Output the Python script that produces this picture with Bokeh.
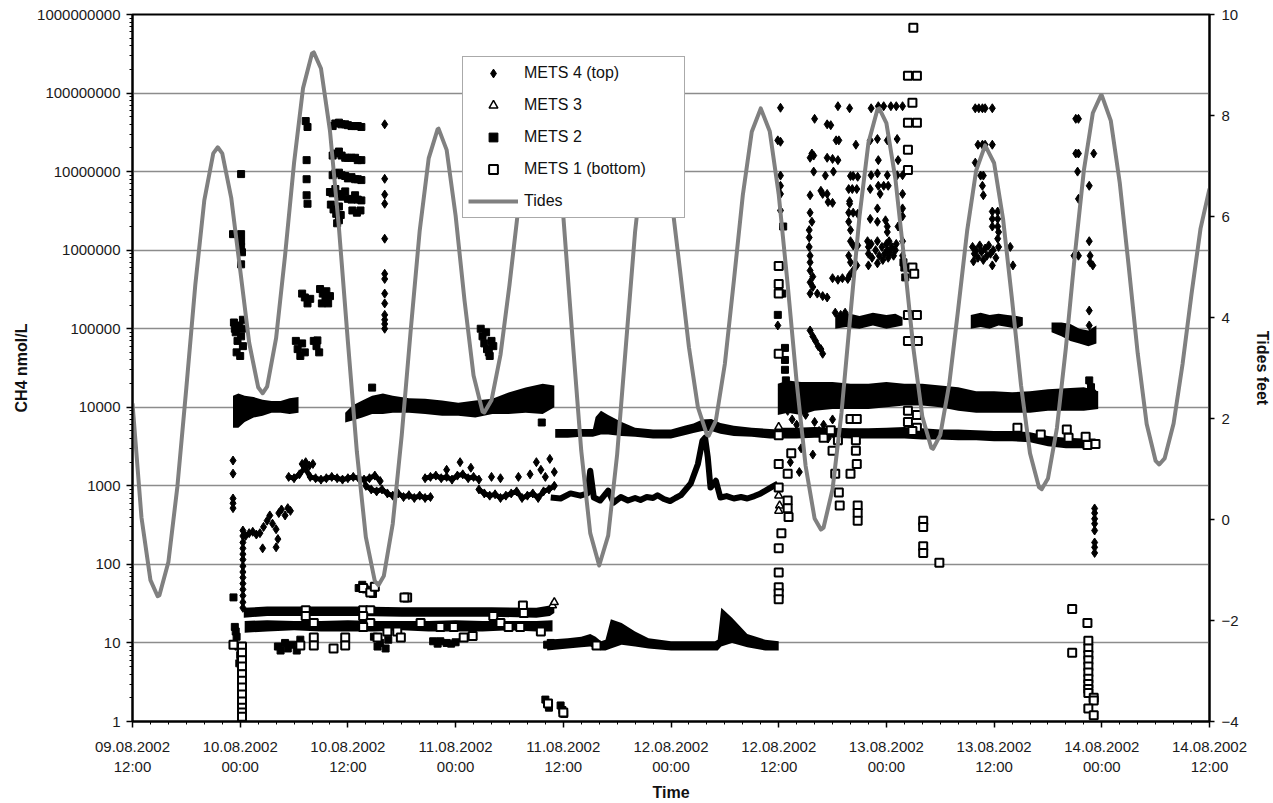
from bokeh.plotting import figure
from bokeh.models import (Range1d, LinearAxis, LinearScale, FixedTicker, NumeralTickFormatter,
                          Legend, LegendItem)
from bokeh.embed import file_html
from bokeh.resources import INLINE

NAN = float("nan")
FONT = "Liberation Sans"

# ---------------- axes ----------------
# x values are hours after 09.08.2002 12:00
X_TICKS = [0, 12, 24, 36, 48, 60, 72, 84, 96, 108, 120]
X_LABELS = ["09.08.2002\n12:00", "10.08.2002\n00:00", "10.08.2002\n12:00", "11.08.2002\n00:00",
            "11.08.2002\n12:00", "12.08.2002\n00:00", "12.08.2002\n12:00", "13.08.2002\n00:00",
            "13.08.2002\n12:00", "14.08.2002\n00:00", "14.08.2002\n12:00"]
X_MINOR = list(range(0, 121, 2))
Y_TICKS = [1, 10, 100, 1000, 10000, 100000, 1000000, 10000000, 100000000, 1000000000]
TIDE_TICKS = [-4, -2, 0, 2, 4, 6, 8, 10]

# ---------------- tides (feet) ----------------
TIDE_H = [0, 1, 2, 2.8, 3, 4, 5, 6, 7, 8, 9, 9.5, 10, 11, 12, 13, 14, 14.5, 15, 16, 17, 18, 19, 20, 20.2,
          21, 22, 23, 24, 25, 26, 27, 27.4, 28, 29, 30, 31, 32, 33, 34, 34.1, 35, 36, 37, 38, 39, 39.2,
          40, 41, 42, 43, 44, 45, 45.8, 46, 47, 48, 49, 50, 51, 52, 53, 54, 55, 56, 57, 58, 59, 60, 61,
          62, 63, 64, 64.2, 65, 66, 67, 68, 69, 70, 71, 72, 73, 74, 75, 76, 76.7, 77, 78, 79, 80, 81, 82,
          83, 83.2, 84, 85, 86, 87, 88, 89, 89.2, 90, 91, 92, 93, 94, 95, 96, 97, 98, 99, 100, 101, 101.3,
          102, 103, 104, 105, 106, 107, 107.9, 108, 109, 110, 111, 112, 113, 114, 114.4, 115, 116, 117,
          118, 119, 120]
TIDE_FT = [2.3, 0.04, -1.20, -1.52, -1.50, -0.84, 0.65, 2.61, 4.65, 6.32, 7.25, 7.37, 7.25, 6.37, 4.94,
           3.50, 2.62, 2.50, 2.63, 3.59, 5.23, 7.06, 8.54, 9.23, 9.25,
           8.93, 7.70, 5.78, 3.52, 1.34, -0.35, -1.22, -1.30, -1.12, -0.08, 1.67, 3.75, 5.72, 7.15, 7.73,
           7.74, 7.32, 6.02, 4.33, 2.85, 2.14, 2.12,
           2.36, 3.26, 4.64, 6.18, 7.56, 8.46, 8.70, 8.68, 7.84, 6.01, 3.65, 1.36, -0.27, -0.91, -0.32, 1.29,
           3.50, 5.70, 7.31, 7.90, 7.51, 6.43, 4.94,
           3.41, 2.22, 1.68, 1.66, 1.96, 3.08, 4.72, 6.42, 7.68, 8.14, 7.69, 6.44, 4.65, 2.72, 1.06, 0.02,
           -0.20, -0.16, 0.60, 2.12, 4.07, 6.00, 7.46,
           8.12, 8.14, 7.85, 6.75, 5.12, 3.40, 2.04, 1.42, 1.40, 1.67, 2.68, 4.17, 5.72, 6.91, 7.41, 7.06,
           5.95, 4.35, 2.66, 1.31, 0.64, 0.60,
           0.81, 1.81, 3.40, 5.24, 6.91, 8.05, 8.40, 8.40, 7.90, 6.67, 5.01, 3.29, 1.89, 1.16, 1.09, 1.21,
           1.90, 3.08, 4.47, 5.76, 6.55]

# ---------------- METS 4 (top) : diamonds ----------------
M4_PTS = [
    (11.2, 2100), (11.2, 1430), (11.2, 690), (11.2, 600), (11.2, 520),
    (12.3, 28), (12.3, 33), (12.3, 40), (12.3, 48), (12.3, 57), (12.3, 68), (12.3, 80), (12.3, 95),
    (12.3, 115), (12.3, 135), (12.3, 160), (12.3, 190), (12.3, 230), (12.3, 270),
    (12.6, 230), (13.0, 250), (13.4, 260), (13.8, 240), (14.2, 250), (14.6, 300), (15.0, 360), (15.3, 420),
    (15.6, 330), (16.0, 280), (16.3, 450), (16.6, 500), (17.0, 420), (17.3, 520), (17.6, 480),
    (14.5, 160), (16.0, 165), (16.2, 210),
    (18.9, 1900), (19.3, 2000), (19.7, 1800), (20.1, 1900),
    (35.0, 1600), (36.5, 2000), (37.7, 1700),
    (40.0, 1300), (41.0, 1250), (43.0, 1300), (44.3, 1400), (45.0, 2000), (45.5, 1600), (46.0, 1300),
    (46.5, 2200), (47.0, 1500),
    (28.1, 4.0e7), (28.1, 8.1e6), (28.1, 5.1e6), (28.1, 3.9e6), (28.1, 1.4e6), (28.1, 5.0e5),
    (28.1, 4.3e5), (28.1, 2.8e5), (28.1, 2.1e5), (28.1, 1.5e5), (28.1, 1.3e5), (28.1, 1.15e5), (28.1, 1.0e5),
]
M4_LATE = [
    (72.2, 6.5e7), (71.9, 2.5e7), (72.2, 2.4e7), (72.2, 8.9e6), (72.2, 6.6e6), (72.2, 5.2e6), (72.2, 3.2e6),
    (71.9, 1.1e5),
    (76.0, 4.7e7), (77.4, 4.0e7), (77.8, 3.9e7), (78.4, 2.5e7), (78.7, 2.5e7),
    (75.7, 1.7e7), (75.9, 1.6e7), (75.5, 1.5e7), (77.4, 1.5e7), (78.0, 1.45e7), (78.6, 1.4e7),
    (75.9, 1.0e7), (77.2, 8.9e6), (78.1, 1.0e7),
    (75.5, 5.0e6), (76.7, 5.7e6), (76.9, 5.2e6), (77.4, 5.2e6), (77.5, 4.1e6), (78.0, 4.0e6),
    (75.5, 3.0e6), (75.7, 2.3e6), (75.4, 1.8e6), (75.4, 1.45e6), (75.4, 1.1e6),
    (75.5, 8.5e5), (75.5, 7.0e5), (75.5, 5.5e5), (75.8, 4.6e5), (75.5, 3.9e5), (75.8, 3.4e5), (75.5, 2.8e5),
    (76.3, 2.8e5), (76.9, 2.6e5), (77.4, 2.5e5),
    (78.0, 4.4e5), (78.6, 4.2e5), (79.1, 4.4e5), (79.7, 4.3e5),
    (78.3, 1.6e5), (78.9, 1.5e5), (79.4, 1.6e5),
    (78.6, 6.8e7), (79.9, 6.4e7), (80.6, 2.2e7),
    (80.0, 8.8e6), (80.3, 8.8e6), (80.8, 8.6e6),
    (79.8, 6.0e6), (80.2, 6.0e6), (80.7, 6.0e6), (79.9, 4.2e6), (79.9, 3.9e6),
    (79.8, 3.0e6), (80.3, 3.0e6), (80.8, 2.9e6), (79.8, 2.3e6), (80.0, 1.8e6), (80.0, 1.3e6),
    (80.3, 1.15e6), (80.8, 1.15e6), (79.8, 8.5e5), (80.0, 7.0e5), (80.7, 6.4e5), (79.9, 4.8e5), (80.3, 5.5e5),
    (82.3, 6.4e7), (83.1, 6.8e7), (83.7, 6.8e7), (84.5, 6.8e7), (85.1, 6.8e7), (85.8, 6.8e7),
    (82.2, 2.5e7), (83.0, 2.6e7), (84.1, 2.5e7), (85.2, 2.6e7), (83.1, 1.4e7), (85.3, 1.4e7),
    (82.3, 9.0e6), (83.0, 9.5e6), (84.1, 9.0e6), (85.2, 9.0e6), (85.8, 9.0e6),
    (82.2, 6.0e6), (83.1, 6.6e6), (83.7, 6.6e6), (84.2, 6.6e6), (85.8, 5.2e6), (83.3, 5.2e6),
    (83.0, 3.4e6), (85.8, 3.4e6), (85.8, 2.7e6), (82.2, 2.5e6), (83.0, 2.3e6), (83.9, 2.4e6),
    (84.1, 2.0e6), (84.1, 1.7e6),
    (81.9, 1.3e6), (82.0, 1.1e6), (82.0, 9.0e5), (82.3, 1.2e6), (82.4, 8.0e5), (82.8, 1.0e6), (83.0, 1.3e6),
    (83.2, 8.5e5), (83.5, 1.1e6), (83.8, 9.0e5), (84.0, 1.2e6), (84.1, 1.0e6), (84.2, 8.0e5), (84.3, 1.3e6),
    (84.4, 9.5e5), (84.6, 1.1e6), (84.8, 8.5e5), (85.0, 1.0e6), (85.1, 1.2e6), (83.6, 7.5e5),
    (82.0, 6.4e5), (83.0, 6.8e5), (85.3, 2.0e6), (85.8, 1.3e6), (85.8, 8.5e5), (85.9, 6.4e5),
    (75.5, 9.5e4), (75.8, 8.0e4), (76.1, 7.0e4), (76.4, 6.0e4), (76.7, 5.5e4), (76.9, 4.8e4),
    (72.5, 15000), (73.0, 9000), (73.5, 7000), (74.0, 6000), (75.0, 8000), (76.0, 6500), (77.0, 6000),
    (78.0, 7000), (76.5, 5000), (77.5, 4000), (74.5, 3000), (73.3, 2000), (74.3, 1500), (75.8, 2500),
    (93.9, 6.4e7), (94.3, 6.4e7), (94.7, 6.4e7), (95.0, 6.4e7), (95.8, 6.4e7),
    (94.2, 2.2e7), (94.7, 2.2e7), (95.0, 2.2e7), (95.8, 2.2e7),
    (93.9, 1.3e7), (94.5, 8.9e6), (94.8, 8.9e6), (94.7, 6.6e6), (94.8, 5.0e6),
    (95.8, 3.1e6), (96.4, 3.1e6), (95.8, 2.5e6), (96.4, 2.5e6), (95.8, 2.0e6), (96.4, 2.0e6), (96.5, 1.7e6),
    (96.4, 1.4e6),
    (93.6, 1.1e6), (93.8, 9.0e5), (94.0, 1.0e6), (94.2, 8.0e5), (94.4, 1.15e6), (94.6, 9.5e5), (94.8, 7.5e5),
    (95.0, 1.05e6), (95.2, 8.5e5), (95.4, 1.15e6), (95.6, 9.0e5), (95.9, 1.0e6), (96.2, 8.0e5), (96.5, 1.1e6),
    (93.7, 7.2e5), (95.8, 6.4e5), (97.8, 1.1e6), (98.1, 6.4e5),
    (105.1, 4.7e7), (105.4, 4.7e7), (105.1, 1.7e7), (105.4, 1.7e7), (107.1, 1.7e7), (105.3, 1.0e7),
    (106.6, 6.6e6), (105.4, 4.5e6),
    (106.6, 1.3e6), (104.9, 8.5e5), (105.4, 8.5e5), (106.7, 8.5e5), (107.0, 6.4e5), (106.7, 7.0e5),
    (106.6, 1.7e5), (106.6, 1.1e5),
    (107.2, 515), (107.2, 450), (107.2, 380), (107.2, 330), (107.2, 270), (107.2, 190), (107.2, 165),
    (107.2, 140),
]
# METS 4 dense chains around 1000 nmol/L (NaN separates the runs)
M4_CHAIN_T = [17.4, 18.0, 18.6, 19.2, 19.8, 20.4, 21.0, 21.6, 22.2, 22.8, 23.4, 24.0, 24.6, 25.2, 25.8,
              26.4, 27.0, 27.6, NAN,
              26.0, 26.6, 27.2, 27.8, 28.4, 29.0, 29.6, 30.2, 30.8, 31.4, 32.0, 32.6, 33.2, NAN,
              32.6, 33.2, 33.8, 34.4, 35.0, 35.6, 36.2, 36.8, 37.4, 38.0, 38.6, NAN,
              38.6, 39.2, 39.8, 40.4, 41.0, 41.6, 42.2, 42.8, 43.4, 44.0, 44.6, 45.2, 45.8, 46.4, 47.0]
M4_CHAIN_V = [1300, 1250, 1400, 1700, 1300, 1250, 1200, 1250, 1300, 1250, 1200, 1250, 1300, 1250, 1200,
              1250, 1350, 1150, NAN,
              1000, 900, 850, 900, 800, 750, 800, 720, 760, 700, 750, 700, 720, NAN,
              1250, 1300, 1350, 1250, 1300, 1200, 1350, 1400, 1250, 1300, 1200, NAN,
              900, 800, 750, 780, 700, 750, 800, 850, 700, 750, 800, 700, 850, 900, 1000]
# METS 4 dense clouds near 1e5
M4_BAND1_T = [78.3, 79.5, 81.0, 82.5, 84.0, 85.0, 85.8]
M4_BAND1_LO = [1.0e5, 1.05e5, 1.0e5, 1.1e5, 1.0e5, 1.05e5, 1.1e5]
M4_BAND1_HI = [1.5e5, 1.6e5, 1.45e5, 1.6e5, 1.5e5, 1.55e5, 1.4e5]
M4_BAND2_T = [93.4, 94.5, 95.5, 96.5, 97.5, 98.5, 99.2]
M4_BAND2_LO = [1.0e5, 1.05e5, 1.0e5, 1.1e5, 1.05e5, 1.0e5, 1.1e5]
M4_BAND2_HI = [1.5e5, 1.6e5, 1.5e5, 1.55e5, 1.5e5, 1.45e5, 1.4e5]

# ---------------- METS 3 : triangles ----------------
M3_BAND_T = [12.4, 15, 20, 25, 30, 35, 40, 45, 46.5, 47.0]
M3_BAND_LO = [21, 22, 22, 22, 21.5, 21.5, 21.5, 21, 22, 24]
M3_BAND_HI = [28, 29, 29, 29, 28.5, 28.5, 28.5, 28, 30, 32]
M3_LINE_T = [46.6, 47.7, 48.8, 49.9, 50.7, 51.0, 51.4, 52.1, 53.0, 53.6, 54.4, 55.2, 56.0, 56.6, 57.3,
             58.0, 58.5, 59.2, 59.9, 60.5, 61.1, 62.2, 63.0, 63.5, 63.8, 64.1, 64.4, 65.0, 65.5, 66.2,
             67.0, 67.8, 68.5, 69.3, 70.0, 71.1, 71.9]
M3_LINE_V = [710, 690, 800, 750, 800, 1560, 710, 650, 870, 610, 720, 650, 700, 660, 720,
             700, 760, 680, 640, 700, 760, 1070, 1900, 3750, 4100, 2300, 950, 1160, 710, 740,
             690, 720, 690, 740, 800, 950, 1070]
M3_PTS = [(46.8, 30), (47.0, 33), (72.0, 5600), (72.0, 750), (72.1, 560), (72.0, 480)]

# ---------------- METS 2 : filled squares ----------------
M2A_T = [11.2, 11.8, 12.5, 13.5, 14.5, 15.5, 16.5, 17.5, 18.5]
M2A_LO = [5500, 5500, 6500, 7400, 7800, 8500, 8500, 8200, 8500]
M2A_HI = [14000, 15000, 14000, 13500, 12500, 12000, 12000, 13000, 13500]
M2B_T = [23.7, 24.5, 25.6, 26.7, 27.9, 29.0, 30.8, 32.6, 34.5, 36.3, 38.2, 40.1, 41.9, 43.8, 45.7, 47.0]
M2B_LO = [6400, 6800, 7400, 8200, 8200, 8500, 8500, 8200, 7800, 7800, 7400, 8200, 8200, 8500, 8200, 10000]
M2B_HI = [8500, 10500, 12200, 14000, 15000, 14000, 13000, 12800, 12200, 11400, 12200, 12800, 15400,
          17800, 20000, 19000]
M2C_T = [47.1, 48.5, 50.0, 51.3, 51.6, 52.2, 53.0, 54.5, 56.0, 58.0, 60.0, 61.5, 62.5, 63.5, 64.5, 65.5,
         67.0, 69.0, 71.0, 72.0]
M2C_LO = [4100, 4100, 4200, 4200, 4300, 4500, 4500, 4300, 4200, 4000, 4000, 4400, 4700, 5000, 5000, 4600,
          4300, 4200, 4000, 4000]
M2C_HI = [5300, 5300, 5300, 5300, 7500, 9000, 8000, 6500, 5500, 5200, 5200, 5800, 6200, 7000, 7100, 6300,
          5800, 5500, 5300, 5200]
M2D_T = [71.9, 73.0, 74.5, 76.0, 78.0, 80.0, 82.0, 84.0, 86.0, 88.0, 90.0, 92.0, 94.0, 96.0, 98.0, 100.0,
         102.0, 104.0, 106.0, 107.6]
M2D_LO = [8000, 8500, 8000, 9000, 9500, 9500, 9500, 10000, 10500, 10500, 10000, 9000, 8500, 8500, 8500, 8500,
          9000, 9000, 9000, 9500]
M2D_HI = [20000, 22000, 21000, 21000, 21000, 20000, 20000, 21000, 20000, 20000, 19000, 18000, 16000, 16000,
          15500, 16000, 17000, 17500, 18000, 16000]
M2E_T = [102.4, 103.5, 104.5, 105.5, 106.5, 107.4]
M2E_LO = [9.0e4, 8.0e4, 7.0e4, 6.5e4, 6.0e4, 6.5e4]
M2E_HI = [1.2e5, 1.2e5, 1.15e5, 1.0e5, 9.5e4, 1.1e5]
M2_PTS = [
    (12.1, 9.3e6), (12.1, 1.6e6), (11.2, 1.6e6), (12.1, 1.3e6), (12.1, 1.1e6), (12.2, 9.4e5), (12.1, 6.6e5),
    (11.3, 1.2e5), (11.5, 9e4), (11.7, 7e4), (11.9, 1.1e5), (12.1, 8e4), (12.3, 6e4), (11.6, 5e4),
    (12.0, 4.5e4), (12.3, 1.3e5), (11.4, 1.0e5), (12.2, 1.0e5),
    (11.25, 38), (11.4, 16), (11.6, 12), (11.8, 9), (12.0, 7), (11.9, 5.5), (11.5, 14),
    (19.3, 4.4e7), (19.5, 3.7e7), (19.4, 1.4e7), (19.4, 8e6), (19.4, 5e6), (19.5, 3.9e6),
    (22.3, 3.8e7), (22.6, 4.1e7), (23.0, 4.2e7), (23.3, 4.0e7), (23.7, 4.0e7), (24.0, 3.9e7), (24.4, 3.8e7),
    (24.8, 3.8e7), (25.1, 3.8e7), (25.5, 3.7e7),
    (22.3, 1.6e7), (22.6, 1.7e7), (23.0, 1.8e7), (23.3, 1.6e7), (23.7, 1.5e7), (24.0, 1.5e7), (24.4, 1.5e7),
    (24.8, 1.5e7), (25.1, 1.4e7), (25.5, 1.4e7),
    (22.3, 9e6), (22.6, 9.5e6), (23.0, 9.7e6), (23.3, 9e6), (23.7, 8.8e6), (24.0, 8.2e6), (24.4, 8.5e6),
    (24.8, 8e6), (25.1, 8e6), (25.5, 7.8e6),
    (22.0, 5.5e6), (22.3, 5.3e6), (22.6, 6e6), (23.0, 5.2e6), (23.3, 4.8e6), (23.7, 5.6e6), (24.0, 4.5e6),
    (24.4, 4.4e6), (24.8, 5.0e6), (25.1, 4.4e6), (25.5, 4.3e6),
    (22.1, 3.8e6), (22.4, 3.3e6), (22.7, 2.9e6), (23.0, 3.6e6), (23.2, 2.8e6), (24.5, 3.2e6), (25.0, 3.0e6),
    (25.4, 3.2e6), (23.0, 2.4e6), (22.8, 2.2e6),
    (18.9, 2.8e5), (19.2, 2.5e5), (19.5, 2.1e5), (19.8, 2.4e5), (20.9, 3.2e5), (21.2, 2.8e5), (21.5, 2.5e5),
    (21.8, 2.1e5), (21.1, 2.1e5), (21.6, 3.0e5), (22.0, 2.6e5),
    (18.2, 7e4), (18.4, 5.5e4), (18.7, 4.5e4), (18.9, 6.5e4), (19.2, 5e4), (20.2, 7e4), (20.5, 6e4),
    (20.8, 5e4), (20.6, 7.1e4),
    (38.8, 1e5), (39.0, 8e4), (39.2, 6.5e4), (39.5, 5.5e4), (39.8, 4.5e4), (40.0, 7e4), (40.2, 6e4),
    (39.4, 9e4), (39.7, 5e4),
    (26.7, 17800), (45.6, 6400),
    (16.2, 9), (16.5, 8), (17.0, 10), (17.3, 8.5), (17.8, 9.5), (18.3, 8), (18.7, 11), (26.9, 12), (27.3, 9),
    (27.6, 10), (28.2, 8.5), (28.5, 11), (33.5, 10.5), (34.0, 9.8), (34.3, 10.5), (35.0, 10), (35.5, 9.8),
    (36.0, 10.2), (46.2, 9.5), (46.6, 10),
    (25.2, 50), (25.6, 55), (26.0, 48), (26.4, 45), (26.8, 42),
    (46.0, 1.9), (46.2, 1.7), (46.4, 1.5), (47.7, 1.6), (47.9, 1.4), (48.1, 1.25),
    (72.5, 2.0e6), (71.9, 1.5e5), (72.4, 2.8e5),
    (72.7, 5.7e4), (72.7, 4.0e4), (72.7, 3.0e4), (72.8, 2.2e4), (72.8, 1.8e4), (72.8, 1.5e4), (72.8, 1.3e4),
    (85.9, 7e5), (86.0, 6e5), (86.1, 4.5e5),
    (106.6, 2.2e4), (106.8, 1.8e4), (106.9, 1.5e4),
]

# ---------------- METS 1 (bottom) : open squares ----------------
M1A_T = [12.5, 15, 18, 21, 24, 27, 30, 33, 36, 39, 42, 45, 46.8]
M1A_LO = [13.5, 14, 14.5, 14, 14, 14, 14.5, 14, 14, 14, 14.5, 14, 14]
M1A_HI = [19, 19.5, 19, 19, 19.5, 19, 19, 19, 19.5, 19, 19, 19, 19.5]
M1B_T = [46.2, 48.5, 50.0, 51.0, 51.6, 52.2, 52.7, 53.3, 54.5, 56.0, 57.5, 60.0, 63.0, 64.9, 65.2, 65.6,
         66.8, 68.5, 70.5, 72.0]
M1B_LO = [8, 8.5, 8.8, 9, 8.5, 8, 8, 8.5, 9.5, 9, 8.5, 8, 8, 8, 8, 9, 10, 8.8, 8, 8]
M1B_HI = [11, 11.5, 12, 13, 12, 10.5, 11, 20, 18, 14, 11.5, 10.5, 10.5, 10.5, 11, 28, 21, 13, 11, 10.5]
M1C_T = [72.0, 74.0, 76.0, 78.0, 80.0, 82.0, 84.0, 86.0, 88.0, 90.0, 92.0, 94.0, 96.0, 98.0, 100.0, 102.0,
         104.0, 106.0, 107.3]
M1C_LO = [4000, 4000, 4100, 4100, 4000, 4000, 4000, 4000, 3900, 3900, 3800, 3800, 3700, 3700, 3600, 3200,
          3000, 3000, 3100]
M1C_HI = [5500, 5500, 5600, 5500, 5400, 5400, 5500, 5600, 5400, 5200, 5200, 5100, 5000, 5000, 4800, 4300,
          4100, 4000, 4000]
M1_PTS = [
    (12.2, 9), (12.2, 7.5), (12.2, 6), (12.2, 5), (12.2, 4), (12.2, 3.3), (12.2, 2.7), (12.2, 2.2),
    (12.2, 1.8), (12.2, 1.5), (12.2, 1.3), (12.2, 1.15), (11.25, 9.5),
    (19.3, 26), (19.3, 22), (20.2, 18), (20.2, 11.7), (20.2, 9.3), (18.7, 9.3), (22.4, 8.5), (23.7, 11.7),
    (23.7, 9.3), (25.7, 26), (26.5, 26), (25.7, 22), (26.5, 18), (25.7, 16), (27.3, 11.7), (28.4, 14),
    (29.5, 14), (29.9, 11.7), (30.6, 38), (30.3, 38), (32.1, 18), (34.3, 16), (35.8, 16), (36.9, 11.7),
    (37.9, 12.3), (40.2, 22), (41.0, 18), (41.9, 16), (43.2, 16), (43.5, 30), (43.6, 24), (45.5, 14),
    (25.7, 50), (26.5, 44), (27.0, 52),
    (46.3, 1.7), (48.0, 1.3), (51.7, 9.3),
    (72.0, 6.3e5), (72.0, 3.7e5), (72.0, 2.8e5), (72.0, 4.8e4), (72.0, 4400), (72.0, 1900), (72.0, 950),
    (72.0, 160), (72.0, 79), (72.0, 51), (72.0, 43), (72.0, 36),
    (73.0, 650), (73.0, 520), (73.1, 400), (72.3, 250), (73.4, 2600), (73.0, 1430),
    (77.0, 4100), (77.8, 5100), (78.6, 3800), (78.0, 2800), (78.3, 1430), (78.7, 820), (78.8, 560),
    (80.0, 7100), (80.7, 7100), (80.6, 3800), (80.6, 2800), (80.7, 1900), (80.0, 1430), (80.8, 560),
    (80.8, 450), (80.8, 360),
    (87.0, 6.8e8), (86.4, 1.66e8), (87.4, 1.66e8), (86.9, 7.5e7), (86.4, 4.2e7), (87.4, 4.2e7),
    (86.4, 1.9e7), (86.4, 1.05e7), (86.9, 6e5), (87.1, 5e5), (86.4, 1.5e5), (87.4, 1.5e5), (86.4, 7e4),
    (87.5, 7e4), (86.4, 9000), (87.4, 8000), (86.4, 6500), (87.4, 5500), (86.9, 5000),
    (88.1, 360), (88.1, 300), (88.1, 170), (88.1, 140), (89.9, 105),
    (98.6, 5500), (101.2, 4500), (104.1, 5200), (104.3, 4100), (106.2, 4200), (106.4, 3300), (107.3, 3400),
    (104.7, 27), (104.7, 7.5), (106.4, 18),
    (106.5, 10.7), (106.5, 8.5), (106.5, 7), (106.5, 6), (106.5, 5), (106.5, 4.2), (106.5, 3.5), (106.5, 3),
    (106.5, 2.6), (106.5, 2.3), (107.1, 2.0), (107.1, 1.85), (106.5, 1.46), (107.1, 1.2),
]


def split(pts):
    return [a for a, _ in pts], [b for _, b in pts]


p = figure(width=1273, height=803, x_range=Range1d(0, 120), y_range=Range1d(1, 1e9),
           y_axis_type="log", output_backend="svg", toolbar_location=None,
           min_border_left=132, min_border_right=64, min_border_top=14, min_border_bottom=82,
           background_fill_color="white", border_fill_color="white")
p.outline_line_color = "black"
p.outline_line_width = 2

p.extra_y_ranges = {"tide": Range1d(-4, 10)}
p.extra_y_scales = {"tide": LinearScale()}

# ---------- axes styling ----------
yticker = FixedTicker(ticks=Y_TICKS,
                      minor_ticks=[m * 10 ** d for d in range(0, 9) for m in range(2, 10)])
lax = p.yaxis[0]
lax.ticker = yticker
lax.formatter = NumeralTickFormatter(format="0")
lax.axis_label = "CH4 nmol/L"
xax = p.xaxis[0]
xax.ticker = FixedTicker(ticks=X_TICKS, minor_ticks=X_MINOR)
xax.major_label_overrides = dict(zip(X_TICKS, X_LABELS))
xax.axis_label = "Time"

rax = LinearAxis(y_range_name="tide", ticker=FixedTicker(ticks=TIDE_TICKS, minor_ticks=[]),
                 axis_label="Tides feet")
p.add_layout(rax, "right")

for ax in (lax, xax, rax):
    ax.axis_line_color = "black"
    ax.axis_line_width = 2
    ax.major_tick_line_color = "black"
    ax.major_tick_line_width = 1.5
    ax.minor_tick_line_color = "black"
    ax.minor_tick_line_width = 1
    ax.major_tick_in = 0
    ax.major_tick_out = 6
    ax.minor_tick_in = 0
    ax.minor_tick_out = 3
    ax.major_label_text_font = FONT
    ax.major_label_text_font_size = "15px"
    ax.major_label_text_color = "#1a1a1a"
    ax.axis_label_text_font = FONT
    ax.axis_label_text_font_size = "16px"
    ax.axis_label_text_font_style = "bold"
    ax.axis_label_text_color = "#111111"
lax.major_label_standoff = 6
lax.axis_label_standoff = 4
xax.major_label_standoff = 10
xax.axis_label_standoff = 6
rax.major_tick_out = 5
rax.major_label_standoff = 7
rax.axis_label_standoff = 12

p.xgrid.visible = False
p.ygrid[0].ticker = yticker
p.ygrid[0].grid_line_color = "#8c8c8c"
p.ygrid[0].grid_line_width = 1.5

INK = "black"

# ---------- dense runs (overlapping markers) ----------
for t, lo, hi in [(M2A_T, M2A_LO, M2A_HI), (M2B_T, M2B_LO, M2B_HI), (M2C_T, M2C_LO, M2C_HI),
                  (M2D_T, M2D_LO, M2D_HI), (M2E_T, M2E_LO, M2E_HI),
                  (M3_BAND_T, M3_BAND_LO, M3_BAND_HI),
                  (M1A_T, M1A_LO, M1A_HI), (M1B_T, M1B_LO, M1B_HI), (M1C_T, M1C_LO, M1C_HI),
                  (M4_BAND1_T, M4_BAND1_LO, M4_BAND1_HI), (M4_BAND2_T, M4_BAND2_LO, M4_BAND2_HI)]:
    p.varea(x=t, y1=lo, y2=hi, fill_color=INK)

p.line(M4_CHAIN_T, M4_CHAIN_V, line_color=INK, line_width=5, line_join="round")
p.scatter(M4_CHAIN_T, M4_CHAIN_V, marker="diamond", size=9, fill_color=INK, line_color=INK)
p.line(M3_LINE_T, M3_LINE_V, line_color=INK, line_width=6, line_join="round")

# ---------- individual markers ----------
t4, v4 = split(M4_PTS + M4_LATE)
r4 = p.scatter(t4, v4, marker="diamond", size=9, fill_color=INK, line_color=INK)
t3, v3 = split(M3_PTS)
r3 = p.scatter(t3, v3, marker="triangle", size=8, fill_color="white", line_color=INK, line_width=1.5)
t2, v2 = split(M2_PTS)
r2 = p.scatter(t2, v2, marker="square", size=7, fill_color=INK, line_color=INK)
t1, v1 = split(M1_PTS)
r1 = p.scatter(t1, v1, marker="square", size=8, fill_color="white", line_color=INK, line_width=2)

# ---------- tides ----------
rt = p.line(TIDE_H, TIDE_FT, y_range_name="tide", line_color="#808080", line_width=4, line_join="round")

legend = Legend(items=[LegendItem(label="METS 4 (top)", renderers=[r4]),
                       LegendItem(label="METS 3", renderers=[r3]),
                       LegendItem(label="METS 2", renderers=[r2]),
                       LegendItem(label="METS 1 (bottom)", renderers=[r1]),
                       LegendItem(label="Tides", renderers=[rt])],
                location=(330, 503), label_text_font=FONT, label_text_font_size="16px",
                label_text_color="#111111", glyph_width=50, glyph_height=22, label_height=22,
                label_width=155, spacing=10, padding=5, margin=0, label_standoff=6,
                border_line_color="#555555", border_line_width=1, background_fill_color="white",
                background_fill_alpha=1.0)
p.add_layout(legend)

open("out.html", "w").write(file_html(p, INLINE))
